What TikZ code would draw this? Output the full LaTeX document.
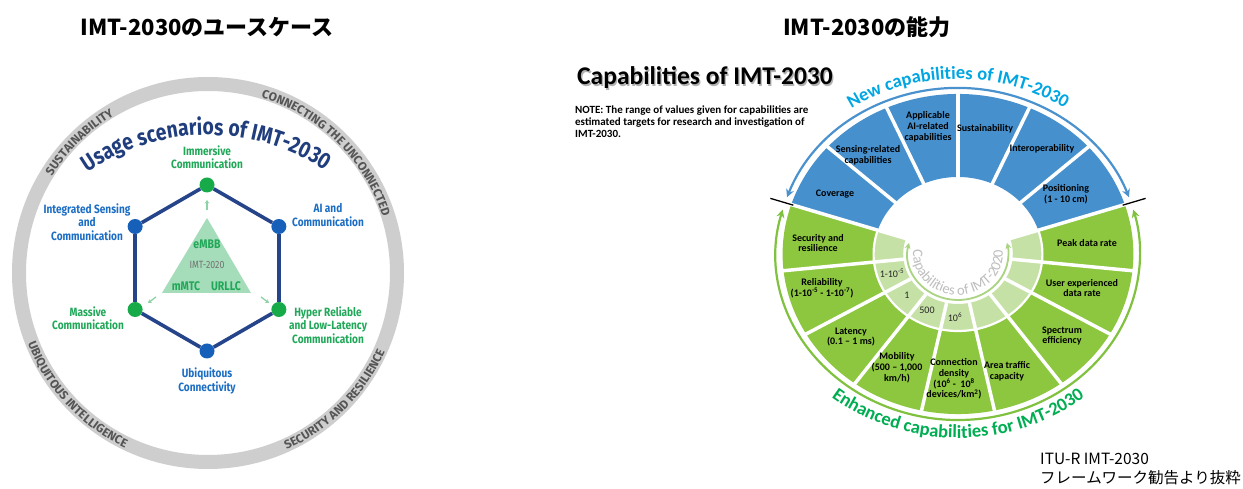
\documentclass[tikz,border=0pt]{standalone}
\usepackage{fontspec}
\setmainfont{Carlito}
\newfontfamily\fira{Fira Sans}
\newfontfamily\firac[FakeStretch=0.84]{Fira Sans}
\newfontfamily\jpfont{Noto Sans CJK JP}
\usetikzlibrary{decorations.text,arrows.meta}
\definecolor{ringgray}{RGB}{206,206,206}
\definecolor{ringtext}{RGB}{85,85,85}
\definecolor{navy}{RGB}{38,68,138}
\definecolor{titlenavy}{RGB}{32,62,125}
\definecolor{labgreen}{RGB}{32,168,88}
\definecolor{labblue}{RGB}{28,110,196}
\definecolor{dotgreen}{RGB}{22,170,72}
\definecolor{dotblue}{RGB}{22,96,186}
\definecolor{trifill}{RGB}{165,220,186}
\definecolor{arrgreen}{RGB}{140,210,165}
\definecolor{cblue}{RGB}{70,144,205}
\definecolor{cgreen}{RGB}{141,198,63}
\definecolor{clight}{RGB}{198,225,166}
\definecolor{barrow}{RGB}{74,146,206}
\definecolor{garrow}{RGB}{128,194,64}
\definecolor{inarrow}{RGB}{170,212,130}
\definecolor{newcyan}{RGB}{0,166,226}
\definecolor{enhgreen}{RGB}{0,174,82}
\definecolor{innergray}{RGB}{190,190,190}
\begin{document}
\begin{tikzpicture}[x=1pt,y=1pt,
  glab/.style={text=labgreen, font=\firac\bfseries\fontsize{12}{13.5}\selectfont, align=center, inner sep=0},
  blab/.style={glab, text=labblue},
  gdot/.style={circle, fill=dotgreen, minimum size=15, inner sep=0},
  bdot/.style={circle, fill=dotblue, minimum size=15, inner sep=0},
  hexline/.style={draw=navy, line width=3.6},
  smarr/.style={draw=arrgreen, line width=1.3, -{Stealth[length=3.5pt,width=4.5pt]}},
  tri/.style={font=\firac\bfseries\fontsize{12.5}{13}\selectfont, text=labgreen, inner sep=0},
  cell/.style={font=\bfseries\fontsize{10}{10.8}\selectfont, align=center, inner sep=0, text=black},
  val/.style={font=\fontsize{10}{11}\selectfont, inner sep=0, text=black!85},
  sepline/.style={white, line width=3.5},
  tickline/.style={black, line width=1.3},
]
\useasboundingbox (0,0) rectangle (1243,489);
\fill[white] (0,0) rectangle (1243,489);

% ---------- titles ----------
\node[font=\jpfont\bfseries\fontsize{22}{26}\selectfont] (t1) at (207,462) {IMT-2030のユースケース};
\node[font=\jpfont\bfseries\fontsize{22}{26}\selectfont] (t2) at (867,462) {IMT-2030の能力};

% ---------- left: usage scenarios ----------
\coordinate (lc) at (208,216);
\coordinate (uc) at (208,141);
\draw[ringgray, line width=14] (lc) circle[radius=189];

\path[decorate, decoration={text along path, text align=center,
  text={|\fira\bfseries\fontsize{12}{12}\selectfont\color{ringtext}|SUSTAINABILITY}}]
  ([shift={(165:183.5)}]lc) arc[start angle=165, end angle=104, radius=183.5];
\path[decorate, decoration={text along path, text align=center,
  text={|\fira\bfseries\fontsize{12}{12}\selectfont\color{ringtext}|CONNECTING THE UNCONNECTED}}]
  ([shift={(95:183.5)}]lc) arc[start angle=95, end angle=-4, radius=183.5];
\path[decorate, decoration={text along path, text align=center,
  text={|\fira\bfseries\fontsize{12}{12}\selectfont\color{ringtext}|UBIQUITOUS INTELLIGENCE}}]
  ([shift={(180:193.5)}]lc) arc[start angle=180, end angle=266, radius=193.5];
\path[decorate, decoration={text along path, text align=center,
  text={|\fira\bfseries\fontsize{12}{12}\selectfont\color{ringtext}|SECURITY AND RESILIENCE}}]
  ([shift={(272:193.5)}]lc) arc[start angle=272, end angle=358, radius=193.5];

\path[decorate, decoration={text along path, text align=center,
  text={|\firac\bfseries\fontsize{23}{24}\selectfont\color{titlenavy}|Usage scenarios of IMT-2030}}]
  ([shift={(140:213)}]uc) arc[start angle=140, end angle=41, radius=213];

% hexagon
\coordinate (hc) at (207,221);
\node[gdot] (hI) at ([shift={(90:83)}]hc) {};
\node[bdot] (hA) at ([shift={(30:83)}]hc) {};
\node[gdot] (hH) at ([shift={(-30:83)}]hc) {};
\node[bdot] (hU) at ([shift={(-90:83)}]hc) {};
\node[gdot] (hM) at ([shift={(-150:83)}]hc) {};
\node[bdot] (hS) at ([shift={(150:83)}]hc) {};
\draw[hexline] (hI) -- (hA);
\draw[hexline] (hA) -- (hH);
\draw[hexline] (hH) -- (hU);
\draw[hexline] (hU) -- (hM);
\draw[hexline] (hM) -- (hS);
\draw[hexline] (hS) -- (hI);

% triangle
\coordinate (ta) at (207,271);
\coordinate (tl) at (162,196);
\coordinate (tr) at (251,196);
\fill[trifill] (ta) -- (tl) -- (tr) -- cycle;
\node[tri] (embb) at (207,245) {eMBB};
\node[font=\firac\fontsize{10.5}{11}\selectfont, text=black!55, inner sep=0] (imt20) at (207,224) {IMT-2020};
\node[tri] (mmtc) at (186,203) {mMTC};
\node[tri] (urllc) at (226,203) {URLLC};
\coordinate (au1) at (207,279); \coordinate (au2) at (207,289);
\coordinate (al1) at (156,192); \coordinate (al2) at (148,186);
\coordinate (ar1) at (261,192); \coordinate (ar2) at (269,186);
\draw[smarr] (au1) -- (au2);
\draw[smarr] (al1) -- (al2);
\draw[smarr] (ar1) -- (ar2);

% labels
\node[glab] (lI) at (207,332) {Immersive\\Communication};
\node[blab] (lS) at (87,267) {Integrated Sensing\\and\\Communication};
\node[blab] (lA) at (328,274) {AI and\\Communication};
\node[glab] (lM) at (88,171) {Massive\\Communication};
\node[glab] (lH) at (328,164) {Hyper Reliable\\and Low-Latency\\Communication};
\node[blab] (lU) at (207,108) {Ubiquitous\\Connectivity};

% ---------- right: capabilities ----------
\node[font=\bfseries\fontsize{25.5}{30}\selectfont, text=black!30] (ctsh) at (706.3,409.7) {Capabilities of IMT-2030};
\node[font=\bfseries\fontsize{25.5}{30}\selectfont] (ct) at (705,411) {Capabilities of IMT-2030};
\node[anchor=north west, align=left, inner sep=0, font=\bfseries\fontsize{11}{12}\selectfont] (note) at (575,383)
  {NOTE: The range of values given for capabilities are\\estimated targets for research and investigation of\\IMT-2030.};

\coordinate (wc) at (958,235);
\begin{scope}[shift={(958,235)}, xscale=1.096]
  \fill[cblue] (18:160) arc[start angle=18, end angle=162, radius=160] -- (162:77) arc[start angle=162, end angle=18, radius=77] -- cycle;
  \fill[cgreen] (162:160) arc[start angle=162, end angle=378, radius=160] -- (378:77) arc[start angle=378, end angle=162, radius=77] -- cycle;
  \fill[clight] (162:77) arc[start angle=162, end angle=378, radius=77] -- (378:50) arc[start angle=378, end angle=162, radius=50] -- cycle;
  \draw[white, line width=2.2] (162:77) arc[start angle=162, end angle=378, radius=77];
  \foreach \b in {18,42,...,354} { \draw[sepline] (\b:48) -- (\b:162); }
  \draw[barrow, line width=2.2, {Stealth[length=8pt,width=8pt]}-{Stealth[length=8pt,width=8pt]}] (160:166) arc[start angle=160, end angle=20, radius=166];
  \draw[garrow, line width=2.2, {Stealth[length=8pt,width=8pt]}-{Stealth[length=8pt,width=8pt]}] (164.5:166) arc[start angle=164.5, end angle=375.5, radius=166];
  \draw[tickline] (162:158) -- (162:180);
  \draw[tickline] (18:158) -- (18:180);
  \draw[inarrow, line width=1.8, {Stealth[length=6pt,width=6pt]}-{Stealth[length=6pt,width=6pt]}] (166:46) arc[start angle=166, end angle=374, radius=46];
\end{scope}

\path[decorate, decoration={text along path, text align=center,
  text={|\bfseries\fontsize{18.5}{18.5}\selectfont\color{newcyan}|New capabilities of IMT-2030}}]
  ([shift={(150:191.8 and 175)}]wc) arc[start angle=150, end angle=30, x radius=191.8, y radius=175];
\path[decorate, decoration={text along path, text align=center,
  text={|\bfseries\fontsize{18.5}{18.5}\selectfont\color{enhgreen}|Enhanced capabilities for IMT-2030}}]
  ([shift={(205:201.7 and 184)}]wc) arc[start angle=205, end angle=335, x radius=201.7, y radius=184];
\path[decorate, decoration={text along path, text align=center,
  text={|\fontsize{14.5}{15}\selectfont\color{innergray}|Capabilities of IMT-2020}}]
  ([shift={(150:44.9 and 41)}]wc) arc[start angle=150, end angle=390, x radius=44.9, y radius=41];

% cell labels
\node[cell] (c1) at (835,295) {Coverage};
\node[cell] (c2) at (868,334) {Sensing-related\\capabilities};
\node[cell] (c3) at (928,362) {Applicable\\AI-related\\capabilities};
\node[cell] (c4) at (985,360) {Sustainability};
\node[cell] (c5) at (1042,340) {Interoperability};
\node[cell] (c6) at (1066,295) {Positioning\\(1 - 10 cm)};
\node[cell] (g1) at (818,246) {Security and\\resilience};
\node[cell] (g2) at (822,201) {Reliability\\(1-10\textsuperscript{-5} - 1-10\textsuperscript{-7})};
\node[cell] (g3) at (851,152) {Latency\\(0.1 – 1 ms)};
\node[cell] (g4) at (897,121) {Mobility\\(500 – 1,000\\km/h)};
\node[cell] (g5) at (954,110) {Connection\\density\\(10\textsuperscript{6} -\ \ 10\textsuperscript{8}\\devices/km\textsuperscript{2})};
\node[cell] (g6) at (1007,118) {Area traffic\\capacity};
\node[cell] (g7) at (1062,153) {Spectrum\\efficiency};
\node[cell] (g8) at (1082,201) {User experienced\\data rate};
\node[cell] (g9) at (1087,246) {Peak data rate};
\node[val] (v1) at (892,216) {1-10\textsuperscript{-5}};
\node[val] (v2) at (907,194) {1};
\node[val] (v3) at (927,179) {500};
\node[val] (v4) at (955,172) {10\textsuperscript{6}};

% source
\node[anchor=west, align=left, inner sep=0, font=\jpfont\fontsize{15.5}{19}\selectfont] (src) at (1040,20)
  {ITU-R IMT-2030\\フレームワーク勧告より抜粋};
\end{tikzpicture}
\end{document}
